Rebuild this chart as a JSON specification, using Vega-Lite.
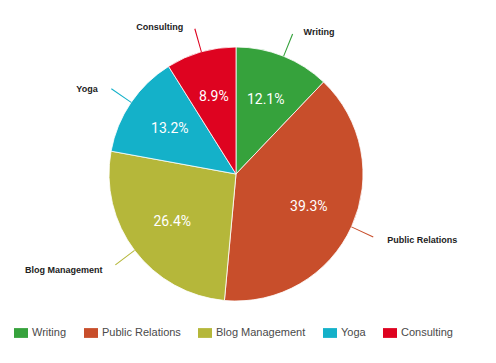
{
  "$schema": "https://vega.github.io/schema/vega-lite/v6.json",
  "width": 472,
  "height": 348,
  "padding": 0,
  "autosize": {"type": "pad"},
  "background": "white",
  "config": {"view": {"stroke": null}},
  "data": {
    "values": [
      {"category": "Writing", "value": 12.1, "order": 1},
      {"category": "Public Relations", "value": 39.3, "order": 2},
      {"category": "Blog Management", "value": 26.4, "order": 3},
      {"category": "Yoga", "value": 13.2, "order": 4},
      {"category": "Consulting", "value": 8.9, "order": 5}
    ]
  },
  "transform": [
    {"stack": "value", "groupby": [], "sort": [{"field": "order", "order": "ascending"}], "as": ["v0", "v1"]},
    {"calculate": "(datum.v0 + datum.v1) / 2", "as": "mid"},
    {"calculate": "datum.mid + 0.12", "as": "mid2"},
    {"calculate": "format(datum.value, '.1f') + '%'", "as": "pct"}
  ],
  "layer": [
    {
      "mark": {"type": "arc", "radius": 127, "stroke": "#ffffff", "strokeWidth": 1, "strokeOpacity": 0.8},
      "encoding": {
        "theta": {"field": "v0", "type": "quantitative", "stack": null, "scale": {"domain": [0, 99.9]}},
        "theta2": {"field": "v1"},
        "color": {
          "field": "category",
          "type": "nominal",
          "sort": ["Writing", "Public Relations", "Blog Management", "Yoga", "Consulting"],
          "scale": {
            "domain": ["Writing", "Public Relations", "Blog Management", "Yoga", "Consulting"],
            "range": ["#36a23c", "#c84e2b", "#b5b73a", "#14b1c9", "#de0320"]
          },
          "legend": {
            "orient": "none",
            "legendX": 14,
            "legendY": 326,
            "direction": "horizontal",
            "title": null,
            "padding": 0,
            "symbolType": "M-1,-0.7H1V0.7H-1Z",
            "symbolSize": 196,
            "symbolStrokeWidth": 0,
            "labelFont": "Liberation Sans",
            "labelFontSize": 11,
            "labelColor": "#4a4a4a",
            "labelOffset": 4,
            "columnPadding": 17
          }
        }
      }
    },
    {
      "mark": {"type": "arc", "radius": 151, "radius2": 127},
      "encoding": {
        "theta": {"field": "mid", "type": "quantitative", "stack": null, "scale": {"domain": [0, 99.9]}},
        "theta2": {"field": "mid2"},
        "color": {"field": "category", "type": "nominal", "legend": null}
      }
    },
    {
      "mark": {"type": "text", "radius": 80, "font": "Roboto", "fontSize": 14, "color": "#ffffff", "baseline": "middle", "align": "center"},
      "encoding": {
        "theta": {"field": "mid", "type": "quantitative", "stack": null, "scale": {"domain": [0, 99.9]}},
        "text": {"field": "pct"}
      }
    },
    {
      "transform": [{"filter": "datum.mid < 50"}],
      "mark": {"type": "text", "radius": 155, "dx": 10, "dy": 2, "align": "left", "baseline": "middle", "font": "Liberation Sans", "fontWeight": "bold", "fontSize": 9, "color": "#222222"},
      "encoding": {
        "theta": {"field": "mid", "type": "quantitative", "stack": null, "scale": {"domain": [0, 99.9]}},
        "text": {"field": "category"}
      }
    },
    {
      "transform": [{"filter": "datum.mid >= 50"}],
      "mark": {"type": "text", "radius": 155, "dx": -10, "dy": 2, "align": "right", "baseline": "middle", "font": "Liberation Sans", "fontWeight": "bold", "fontSize": 9, "color": "#222222"},
      "encoding": {
        "theta": {"field": "mid", "type": "quantitative", "stack": null, "scale": {"domain": [0, 99.9]}},
        "text": {"field": "category"}
      }
    }
  ]
}
